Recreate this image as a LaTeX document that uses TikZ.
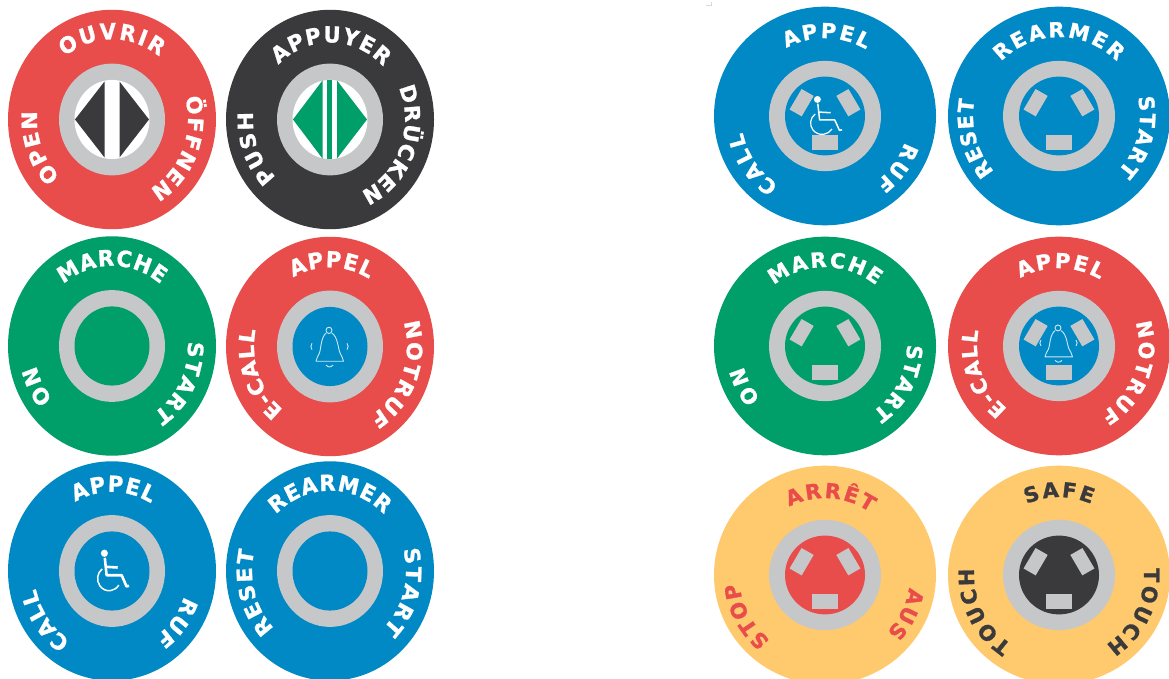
\documentclass[tikz,border=0pt]{standalone}
\usepackage{fontspec}
\setmainfont[BoldFont={DejaVu Sans Bold},BoldFeatures={FakeBold=1.2}]{DejaVu Sans}
\definecolor{cred}{HTML}{E84C4B}
\definecolor{cdark}{HTML}{3A393B}
\definecolor{cblue}{HTML}{0089C4}
\definecolor{cgreen}{HTML}{009E69}
\definecolor{cgray}{HTML}{C6C7C9}
\definecolor{cyel}{HTML}{FFC96E}
\definecolor{cline}{HTML}{CFE9F4}
\newcommand\btnfont{\fontsize{21}{21}\selectfont\bfseries}
\newdimen\arcpos \newdimen\arctot \newdimen\chw \newcount\lc
\newcommand\measurechar[1]{\setbox0=\hbox{\pgfinterruptpicture\btnfont#1\endpgfinterruptpicture}\chw=\wd0\relax}
\newcommand\arctext[5]{% letters, mid bearing, radius, spacing, colour
 \global\arctot=0pt
 \foreach \c in {#1}{\measurechar{\c}\global\advance\arctot by \chw\relax\global\advance\arctot by #4pt\relax}
 \global\advance\arctot by -#4pt\relax
 \global\arcpos=0pt
 \foreach \c in {#1}{%
  \measurechar{\c}%
  \pgfmathsetmacro\ang{#2+(\arcpos+0.5*\chw-0.5*\arctot)/#3*57.2958}%
  \global\advance\lc by 1\relax
  \node[lettr,text=#5,rotate=-\ang] (L\the\lc) at ({90-\ang}:#3pt) {\btnfont\c};
  \global\advance\arcpos by \chw\relax\global\advance\arcpos by #4pt\relax}}
\newcommand\lbtn[4]{\begin{scope}[shift={(#1,679-#2)},yscale=1.055,every node/.style={transform shape}]
 \fill[#3] (0,0) circle[radius=104];\fill[cgray] (0,0) circle[radius=53];\fill[#4] (0,0) circle[radius=37.5];}
\newcommand\rbtn[4]{\begin{scope}[shift={(#1,679-#2)},yscale=0.985,every node/.style={transform shape}]
 \fill[#3] (0,0) circle[radius=111];\fill[cgray] (0,0) circle[radius=56];\fill[#4] (0,0) circle[radius=40];}
\newcommand\threerects{\begin{scope}[yscale=-1]
 \fill[cgray] (-12.7,19) rectangle (12.7,35);
 \foreach \a in {120,-120}{\fill[cgray,rotate=\a] (-12,20) rectangle (12,34);}
 \end{scope}}
\newcommand\wheel[2]{\begin{scope}[yscale=-1,white,line join=round]
 \fill (-7.6,-16.8) circle[radius=3.5];
 \draw[line width=#1] (-7.2,-12.5) -- (-5.4,4) -- (9.7,4) -- (14.5,14.6) -- (17,14);
 \draw[line width=#1] (-6.5,-4) -- (5.7,-3.3);
 \draw[line width=#2] (-2.9,7.2) ++(233:11.5) arc[start angle=233,end angle=32,radius=11.5];
 \end{scope}}
\newcommand\bell[1]{\begin{scope}[yscale=-1,yshift=#1,cline,line width=0.9pt,line join=round]
 \draw (-1,-15.3) circle[radius=3];
 \draw (-4,-12.6) .. controls (-9,-9) and (-9,2) .. (-10.5,6) .. controls (-11.5,9) and (-14,11) .. (-14,14) -- (13.5,14) .. controls (13.5,11) and (11,9) .. (10,6) .. controls (8,2) and (8,-9) .. (2,-12.6);
 \draw (-4,17.5) .. controls (-2,20) and (1,20) .. (3,17.5);
 \draw (-18,-3) .. controls (-19.5,-1) and (-19.5,1) .. (-18,3);
 \draw (17,-3) .. controls (18.5,-1) and (18.5,1) .. (17,3);
 \end{scope}}
\tikzset{lettr/.style={anchor=base,inner sep=0pt,outer sep=0pt}}
\begin{document}
\begin{tikzpicture}[x=1pt,y=1pt]
\useasboundingbox (0,0) rectangle (1169,679);
\clip (0,0) rectangle (1169,679);
\fill[white] (0,0) rectangle (1169,679);
\draw[cgray!70,line width=0.5pt] (706,674) -- (711,674) -- (711,677);
% row 1 left
\lbtn{112}{119.5}{cred}{white}
 \fill[cdark] (-37,0) -- (-7.5,36) -- (-7.5,-36) -- cycle;
 \fill[cdark] (37,0) -- (7.5,36) -- (7.5,-36) -- cycle;
 \arctext{O,U,V,R,I,R}{0}{76}{2.2}{white}
 \arctext{O,P,E,N}{-110}{75}{1}{white}
 \arctext{Ö,F,F,N,E,N}{112}{76}{1}{white}
\end{scope}
\lbtn{330}{119.5}{cdark}{white}
 \fill[cgreen] (-37,0) -- (-7.5,37) -- (-7.5,-37) -- cycle;
 \fill[cgreen] (37,0) -- (7,37) -- (7,-37) -- cycle;
 \fill[cgreen] (-2.6,-37.5) rectangle (1.6,37.5);
 \arctext{A,P,P,U,Y,E,R}{1}{73}{1.2}{white}
 \arctext{P,U,S,H}{-110}{77}{1}{white}
 \arctext{D,R,Ü,C,K,E,N}{111}{75}{0.5}{white}
\end{scope}
% row 2 left
\lbtn{112}{346}{cgreen}{cgreen}
 \arctext{M,A,R,C,H,E}{0}{76}{1}{white}
 \arctext{O,N}{-117}{78}{1}{white}
 \arctext{S,T,A,R,T}{117}{76}{1}{white}
\end{scope}
\lbtn{330}{346.5}{cred}{cblue}
 \bell{0pt}
 \arctext{A,P,P,E,L}{1}{75}{1.2}{white}
 \arctext{E,-,C,A,L,L}{-110}{76}{0.7}{white}
 \arctext{N,O,T,R,U,F}{111}{77}{1.2}{white}
\end{scope}
% row 3 left
\lbtn{112}{571}{cblue}{cblue}
 \wheel{2.6pt}{1.5pt}
 \arctext{A,P,P,E,L}{1}{75}{1.2}{white}
 \arctext{C,A,L,L}{-125}{78}{1}{white}
 \arctext{R,U,F}{127}{76}{1}{white}
\end{scope}
\lbtn{330}{571}{cblue}{cblue}
 \arctext{R,E,A,R,M,E,R}{0}{76}{1}{white}
 \arctext{R,E,S,E,T}{-105}{78}{1.3}{white}
 \arctext{S,T,A,R,T}{105}{76}{1.3}{white}
\end{scope}
% row 1 right
\rbtn{825}{116}{cblue}{cblue}
 \threerects
 \wheel{1.5pt}{1.2pt}
 \arctext{A,P,P,E,L}{1}{79}{2.2}{white}
 \arctext{C,A,L,L}{-124}{84}{2.5}{white}
 \arctext{R,U,F}{126}{84}{2}{white}
\end{scope}
\rbtn{1059}{116}{cblue}{cblue}
 \threerects
 \arctext{R,E,A,R,M,E,R}{0}{80}{2.5}{white}
 \arctext{R,E,S,E,T}{-105}{86}{1}{white}
 \arctext{S,T,A,R,T}{105}{81}{1.2}{white}
\end{scope}
% row 2 right
\rbtn{825}{346}{cgreen}{cgreen}
 \threerects
 \arctext{M,A,R,C,H,E}{0}{80}{2}{white}
 \arctext{O,N}{-117}{84}{2}{white}
 \arctext{S,T,A,R,T}{117}{82}{1}{white}
\end{scope}
\rbtn{1059}{346}{cred}{cblue}
 \threerects
 \bell{-3pt}
 \arctext{A,P,P,E,L}{1}{79}{2.2}{white}
 \arctext{E,-,C,A,L,L}{-110}{82}{1.5}{white}
 \arctext{N,O,T,R,U,F}{111}{80}{2}{white}
\end{scope}
% row 3 right
\rbtn{825}{575}{cyel}{cred}
 \threerects
 \arctext{A,R,R,Ê,T}{4}{78}{2}{cred}
 \arctext{S,T,O,P}{-118}{86}{1.5}{cred}
 \arctext{A,U,S}{116}{85}{1.5}{cred}
\end{scope}
\rbtn{1059}{575}{cyel}{cdark}
 \threerects
 \arctext{S,A,F,E}{0}{79}{2.2}{cdark}
 \arctext{T,O,U,C,H}{-116}{85}{2}{cdark}
 \arctext{T,O,U,C,H}{116}{85}{2.2}{cdark}
\end{scope}
\end{tikzpicture}
\end{document}
